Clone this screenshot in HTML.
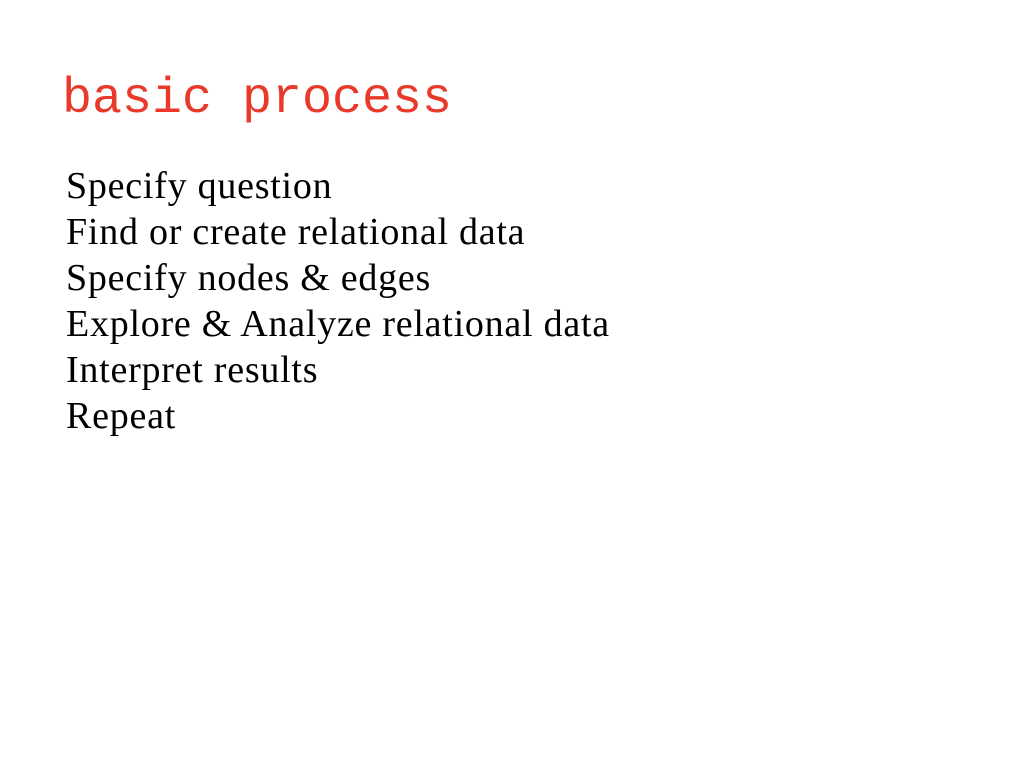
<!DOCTYPE html>
<html><head><meta charset="utf-8"><style>
html,body{margin:0;padding:0;width:1024px;height:768px;background:#fff;overflow:hidden}
.t{position:absolute;left:62px;top:70px;font:50px/60px "Liberation Mono",monospace;color:#e8392a;white-space:nowrap}
.b{position:absolute;left:66px;top:163px;font:38px/46px "Liberation Serif",serif;letter-spacing:0.75px;color:#000;white-space:nowrap}
</style></head><body>
<div class="t">basic process</div>
<div class="b">Specify question<br>Find or create relational data<br>Specify nodes &amp; edges<br>Explore &amp; Analyze relational data<br>Interpret results<br>Repeat</div>
</body></html>
